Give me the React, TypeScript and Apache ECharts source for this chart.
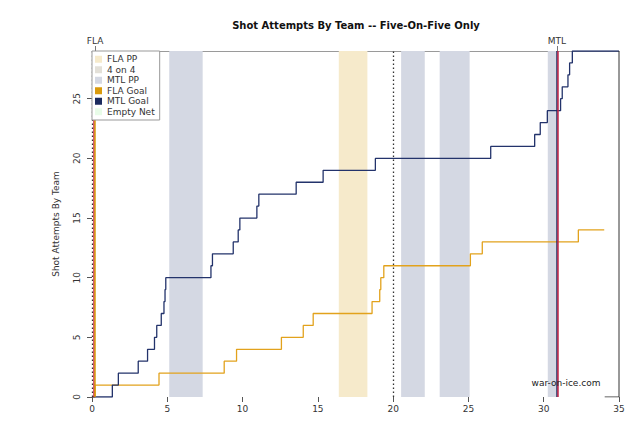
import React, { useEffect, useRef } from "react";
import * as echarts from "echarts";

// MTL cumulative shot attempts: time (minutes) when count changes, new count
const mtlTimes = [0, 1.35, 1.75, 3.07, 3.69, 4.15, 4.3, 4.6, 4.78, 4.85, 4.9, 7.9, 8.0, 9.38, 9.71, 9.82, 10.95, 11.08, 13.56, 15.35, 18.82, 26.48, 29.4, 29.77, 30.24, 31.12, 31.23, 31.61, 31.72, 31.9, 35];
const mtlCounts = [0, 1, 2, 3, 4, 5, 6, 7, 8, 9, 10, 11, 12, 13, 14, 15, 16, 17, 18, 19, 20, 21, 22, 23, 24, 25, 26, 27, 28, 29, 29];

// FLA cumulative shot attempts
const flaTimes = [0, 0.2, 4.45, 8.78, 9.6, 12.58, 14.03, 14.69, 18.6, 19.11, 19.18, 19.38, 25.13, 25.92, 32.3, 34.02];
const flaCounts = [0, 1, 2, 3, 4, 5, 6, 7, 8, 9, 10, 11, 12, 13, 14, 14];

// Power plays [start, end]
const mtlPPStart = [5.13, 20.53, 23.09, 30.27];
const mtlPPEnd = [7.35, 22.1, 25.08, 30.85];
const flaPPStart = [16.39];
const flaPPEnd = [18.29];

// Goals
const goalTeams = ["FLA", "MTL"];
const goalTimes = [0.2, 30.88];
const goalMarkTimes = [0.1, 30.95];

// Period boundaries
const periodLines = [0, 20];

// Closing frame segment
const tailX = [34.05, 35, 35];
const tailY = [0, 0, 29];

const xTicks = [0, 5, 10, 15, 20, 25, 30, 35];
const yTicks = [0, 5, 10, 15, 20, 25];

const FONT = "DejaVu Sans";
const C_FLA = "#E2A21C";
const C_MTL = "#23336B";
const C_FLA_PP = "#F6EACB";
const C_44 = "#E3E0D8";
const C_MTL_PP = "#D4D8E3";
const C_FLA_GOAL = "#D99A0C";
const C_MTL_GOAL = "#1B2A5E";
const C_EN = "#E8FCE8";
const C_RED = "#C42648";

export default function App() {
  const ref = useRef<HTMLDivElement>(null);
  useEffect(() => {
    if (!ref.current) return;
    const chart = echarts.init(ref.current, undefined, { renderer: "svg" });
    const pair = (xs: number[], ys: number[]) => xs.map((x, i) => [x, ys[i]]);
    const option: any = {
      animation: false,
      textStyle: { fontFamily: FONT },
      grid: { left: 92, right: 21, top: 51, bottom: 30, containLabel: false },
      legend: {
        orient: "vertical",
        left: 92,
        top: 51,
        z: 20,
        backgroundColor: "#fff",
        borderColor: "#999",
        borderWidth: 1,
        borderRadius: 0,
        padding: [3, 5, 3, 3],
        itemWidth: 7,
        itemHeight: 7,
        itemGap: 0,
        selectedMode: false,
        textStyle: { fontSize: 9, color: "#333", fontFamily: FONT, lineHeight: 10.5 },
        data: [
          { name: "FLA PP", icon: "rect", itemStyle: { color: C_FLA_PP } },
          { name: "4 on 4", icon: "rect", itemStyle: { color: C_44 } },
          { name: "MTL PP", icon: "rect", itemStyle: { color: C_MTL_PP } },
          { name: "FLA Goal", icon: "rect", itemStyle: { color: C_FLA_GOAL } },
          { name: "MTL Goal", icon: "rect", itemStyle: { color: C_MTL_GOAL } },
          { name: "Empty Net", icon: "rect", itemStyle: { color: C_EN } },
        ],
      },
      graphic: [
        {
          type: "text",
          x: 356,
          y: 25,
          z: 100,
          style: {
            text: "Shot Attempts By Team -- Five-On-Five Only",
            font: `bold 10px '${FONT}'`,
            fill: "#111",
            textAlign: "center",
            textVerticalAlign: "middle",
          },
        },
        {
          type: "text",
          x: 566,
          y: 383,
          z: 100,
          style: {
            text: "war-on-ice.com",
            font: `9px '${FONT}'`,
            fill: "#222",
            textAlign: "center",
            textVerticalAlign: "middle",
          },
        },
      ],
      xAxis: [
        {
          type: "value",
          min: 0,
          max: 35,
          interval: 5,
          position: "bottom",
          splitLine: { show: false },
          axisLine: { show: false },
          axisTick: { show: true, length: 5, customValues: xTicks, lineStyle: { color: "#555" } },
          axisLabel: { fontSize: 9, color: "#333", margin: 7, fontFamily: FONT, customValues: xTicks },
        },
        {
          type: "value",
          min: 0,
          max: 35,
          position: "top",
          splitLine: { show: false },
          axisLine: { show: true, lineStyle: { color: "#9a9a9a", width: 1 } },
          axisTick: { show: true, length: 5, customValues: goalTimes, lineStyle: { color: "#777" } },
          axisLabel: {
            fontSize: 9,
            color: "#333",
            margin: 6,
            fontFamily: FONT,
            customValues: goalTimes,
            formatter: (v: number) => {
              const i = goalTimes.findIndex((g) => Math.abs(g - v) < 1e-6);
              return i >= 0 ? goalTeams[i] : "";
            },
          },
        },
      ],
      yAxis: {
        type: "value",
        min: 0,
        max: 29,
        interval: 5,
        name: "Shot Attempts By Team",
        nameLocation: "middle",
        nameGap: 32,
        nameTextStyle: { fontSize: 9, color: "#333", fontFamily: FONT },
        splitLine: { show: false },
        axisLine: { show: false },
        axisTick: { show: true, length: 5, customValues: yTicks, lineStyle: { color: "#555" } },
        axisLabel: {
          fontSize: 9,
          color: "#333",
          rotate: 90,
          margin: 11,
          fontFamily: FONT,
          customValues: yTicks,
        },
      },
      series: [
        {
          name: "FLA PP",
          type: "line",
          data: [],
          color: C_FLA_PP,
          markArea: {
            silent: true,
            itemStyle: { color: C_FLA_PP, opacity: 1 },
            data: flaPPStart.map((s, i) => [{ xAxis: s }, { xAxis: flaPPEnd[i] }]),
          },
        },
        { name: "4 on 4", type: "line", data: [], color: C_44 },
        {
          name: "MTL PP",
          type: "line",
          data: [],
          color: C_MTL_PP,
          markArea: {
            silent: true,
            itemStyle: { color: C_MTL_PP, opacity: 1 },
            data: mtlPPStart.map((s, i) => [{ xAxis: s }, { xAxis: mtlPPEnd[i] }]),
          },
        },
        {
          name: "periods",
          type: "line",
          data: [],
          markLine: {
            silent: true,
            symbol: "none",
            label: { show: false },
            lineStyle: { color: "#333", type: [1.5, 2.5], width: 1.3 },
            data: periodLines.map((p) => ({ xAxis: p })),
          },
        },
        {
          name: "FLA Goal",
          type: "line",
          data: [],
          color: C_FLA_GOAL,
          z: 5,
          markLine: {
            silent: true,
            symbol: "none",
            label: { show: false },
            data: [
              { xAxis: goalMarkTimes[0], lineStyle: { color: C_RED, width: 1.5, type: "solid" } },
              { xAxis: goalTimes[0], lineStyle: { color: C_FLA_GOAL, width: 1.5, type: "solid" } },
            ],
          },
        },
        {
          name: "MTL Goal",
          type: "line",
          data: [],
          color: C_MTL_GOAL,
          z: 5,
          markLine: {
            silent: true,
            symbol: "none",
            label: { show: false },
            data: [
              { xAxis: goalTimes[1], lineStyle: { color: C_MTL_GOAL, width: 1.5, type: "solid" } },
              { xAxis: goalMarkTimes[1], lineStyle: { color: C_RED, width: 1.5, type: "solid" } },
            ],
          },
        },
        { name: "Empty Net", type: "line", data: [], color: C_EN },
        {
          name: "FLA",
          type: "line",
          step: "end",
          symbol: "none",
          data: pair(flaTimes, flaCounts),
          lineStyle: { color: C_FLA, width: 1.3 },
          z: 4,
        },
        {
          name: "MTL",
          type: "line",
          step: "end",
          symbol: "none",
          data: pair(mtlTimes, mtlCounts),
          lineStyle: { color: C_MTL, width: 1.3 },
          z: 4,
        },
        {
          name: "frame",
          type: "line",
          symbol: "none",
          data: pair(tailX, tailY),
          lineStyle: { color: "#333", width: 1 },
          z: 4,
        },
      ],
    };
    chart.setOption(option);
    return () => chart.dispose();
  }, []);
  return (
    <div
      ref={ref}
      style={{ position: "fixed", left: 0, top: 0, width: 640, height: 427, background: "#fff" }}
    />
  );
}
